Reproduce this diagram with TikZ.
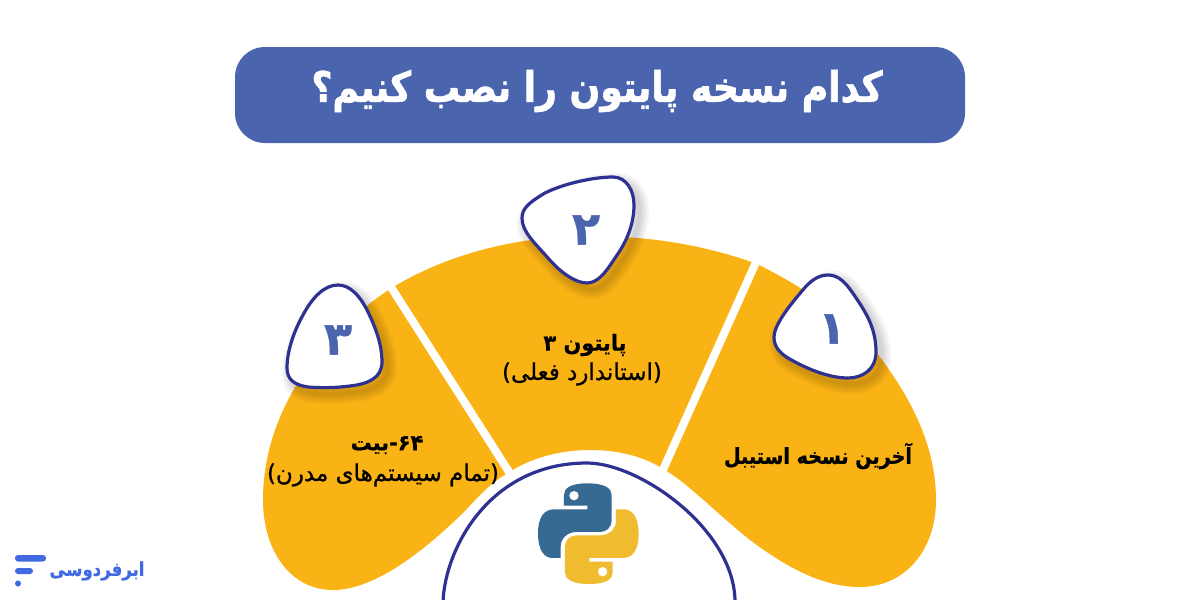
\documentclass[tikz,border=0pt]{standalone}
\usepackage{fontspec}
\TeXXeTstate=1
\newfontfamily\fareg[Script=Arabic,FakeBold=0.9]{DejaVu Sans}
\newfontfamily\fabold[Script=Arabic,FakeBold=0.8]{DejaVu Sans Bold}
\newfontfamily\fatitle[Script=Arabic,FakeStretch=0.86,FakeBold=1.4]{DejaVu Sans Bold}
\newfontfamily\falabel[Script=Arabic,FakeStretch=0.87,FakeBold=0.8]{DejaVu Sans Bold}
\newfontfamily\fashort[Script=Arabic,FakeStretch=0.95,FakeBold=0.6]{DejaVu Sans Bold}
\definecolor{titlebg}{HTML}{4A64AE}
\definecolor{amber}{HTML}{FAB315}
\definecolor{navy}{HTML}{2E3192}
\definecolor{pyblue}{HTML}{366A92}
\definecolor{pyyellow}{HTML}{F0BB2F}
\definecolor{brand}{HTML}{4169E1}
\newcommand{\rtl}[1]{\beginR #1\endR}
\tikzset{
  badge/.style={draw=navy,line width=3.2pt,fill=white},
  numeral/.style={text=titlebg,font=\fabold\fontsize{46}{50}\selectfont,inner sep=0pt},
  boldlabel/.style={text=black,font=\fashort\fontsize{22}{26}\selectfont,inner sep=0pt},
  widelabel/.style={text=black,font=\falabel\fontsize{22}{26}\selectfont,inner sep=0pt},
  thinlabel/.style={text=black,font=\fareg\fontsize{23}{26}\selectfont,inner sep=0pt},
}
\newcommand{\softshadow}[1]{%
  \foreach \w in {20,16,12,8,4}{%
    \draw[black,draw opacity=.035,line width=\w pt,line join=round,xshift=5pt,yshift=-6pt] #1;}%
}
\newcommand{\pathA}{(828,275) .. controls (838,275) and (845,282) .. (852,292) .. controls (866,312) and (876,328) .. (876,352) .. controls (876,370) and (862,378) .. (848,378) .. controls (828,378) and (805,368) .. (788,358) .. controls (780,353) and (774,347) .. (774,337) .. controls (774,325) and (790,305) .. (802,291) .. controls (810,281) and (818,275) .. (828,275) -- cycle}
\newcommand{\pathB}{(613,177) .. controls (626,177) and (634,190) .. (634,205) .. controls (634,225) and (626,243) .. (615,258) .. controls (606,272) and (598,283) .. (587,283) .. controls (575,283) and (560,272) .. (548,258) .. controls (535,243) and (522,232) .. (522,218) .. controls (522,208) and (530,202) .. (545,193) .. controls (565,183) and (595,177) .. (613,177) -- cycle}
\newcommand{\pathC}{(338,285) .. controls (350,285) and (360,296) .. (367,310) .. controls (376,328) and (382,345) .. (382,362) .. controls (382,378) and (368,384) .. (350,386) .. controls (335,388) and (320,388) .. (308,387) .. controls (295,385) and (287,380) .. (287,368) .. controls (287,352) and (293,333) .. (303,315) .. controls (312,298) and (324,285) .. (338,285) -- cycle}
\begin{document}
\begin{tikzpicture}[x=1pt,y=-1pt]
\useasboundingbox (0,0) rectangle (1200,600);
\fill[white] (0,0) rectangle (1200,600);
% title
\fill[titlebg,rounded corners=30pt] (235,47) rectangle (965,143);
\node[text=white,font=\fatitle\fontsize{42}{48}\selectfont,inner sep=0pt] (title) at (597,91) {\rtl{کدام نسخه پایتون را نصب کنیم؟}};
% fan
\fill[amber] (590,236) .. controls (515,236) and (445,255) .. (390,289)
  .. controls (335,325) and (263,400) .. (263,500)
  .. controls (263,550) and (290,590) .. (333,590)
  .. controls (380,590) and (435,540) .. (463,513)
  .. controls (478,497) and (490,483) .. (508,473)
  .. controls (530,458) and (560,450) .. (590,450)
  .. controls (620,450) and (645,457) .. (665,470)
  .. controls (690,485) and (715,512) .. (750,540)
  .. controls (790,570) and (825,587) .. (860,587)
  .. controls (905,587) and (936,550) .. (936,500)
  .. controls (936,440) and (905,390) .. (877,353)
  .. controls (845,315) and (800,285) .. (757,264)
  .. controls (705,245) and (650,236) .. (590,236) -- cycle;
\draw[white,line width=8pt] (389,284) -- (511,475);
\draw[white,line width=8pt] (757,260) -- (662,472);
% mound
\draw[navy,line width=3.2pt,fill=white] (443,602) .. controls (445,548) and (490,463) .. (587,463)
  .. controls (640,463) and (735,530) .. (735,602);
% python logo
\begin{scope}[shift={(430,440)},x=.3333pt,y=-.3333pt]
\fill[pyblue] (472,130) .. controls (420,130) and (402,145) .. (402,165) -- (402,197) -- (472,197) -- (472,208) -- (372,208)
  .. controls (340,208) and (324,235) .. (324,280) .. controls (324,330) and (342,354) .. (368,354) -- (392,354) -- (392,320)
  .. controls (392,295) and (412,276) .. (440,276) -- (510,276) .. controls (530,276) and (545,262) .. (545,240) -- (545,165)
  .. controls (545,145) and (525,130) .. (472,130) -- cycle;
\fill[white] (432,167) circle[radius=14];
\fill[pyyellow] (478,432) .. controls (530,432) and (548,417) .. (548,397) -- (548,365) -- (478,365) -- (478,354) -- (578,354)
  .. controls (610,354) and (626,327) .. (626,282) .. controls (626,232) and (608,208) .. (582,208) -- (558,208) -- (558,242)
  .. controls (558,267) and (538,286) .. (510,286) -- (440,286) .. controls (420,286) and (405,300) .. (405,322) -- (405,397)
  .. controls (405,417) and (425,432) .. (478,432) -- cycle;
\fill[white] (518,395) circle[radius=14];
\end{scope}
% badges
\softshadow{\pathC}
\draw[badge] \pathC;
\softshadow{\pathB}
\draw[badge] \pathB;
\softshadow{\pathA}
\draw[badge] \pathA;
\node[numeral] (n1) at (832,329) {۱};
\node[numeral] (n2) at (586,230) {۲};
\node[numeral] (n3) at (338,340) {۳};
% labels
\node[widelabel] (l1) at (818,456) {\rtl{آخرین نسخه استیبل}};
\node[boldlabel] (l2a) at (585,345) {\rtl{پایتون ۳}};
\node[thinlabel] (l2b) at (582,374) {\rtl{(استاندارد فعلی)}};
\node[boldlabel] (l3a) at (387,445) {\beginR\beginL ۶۴\endL-بیت\endR};
\node[thinlabel] (l3b) at (383,475) {\rtl{(تمام سیستم‌های مدرن)}};
% brand
\fill[brand,rounded corners=3pt] (15,555) rectangle (46,561.5);
\fill[brand,rounded corners=3pt] (15,568) rectangle (33,574);
\fill[brand] (18,583.5) circle[radius=3];
\node[text=brand,font=\falabel\fontsize{19}{22}\selectfont,inner sep=0pt] (brandname) at (97,571) {\rtl{ابرفردوسی}};
\end{tikzpicture}
\end{document}
